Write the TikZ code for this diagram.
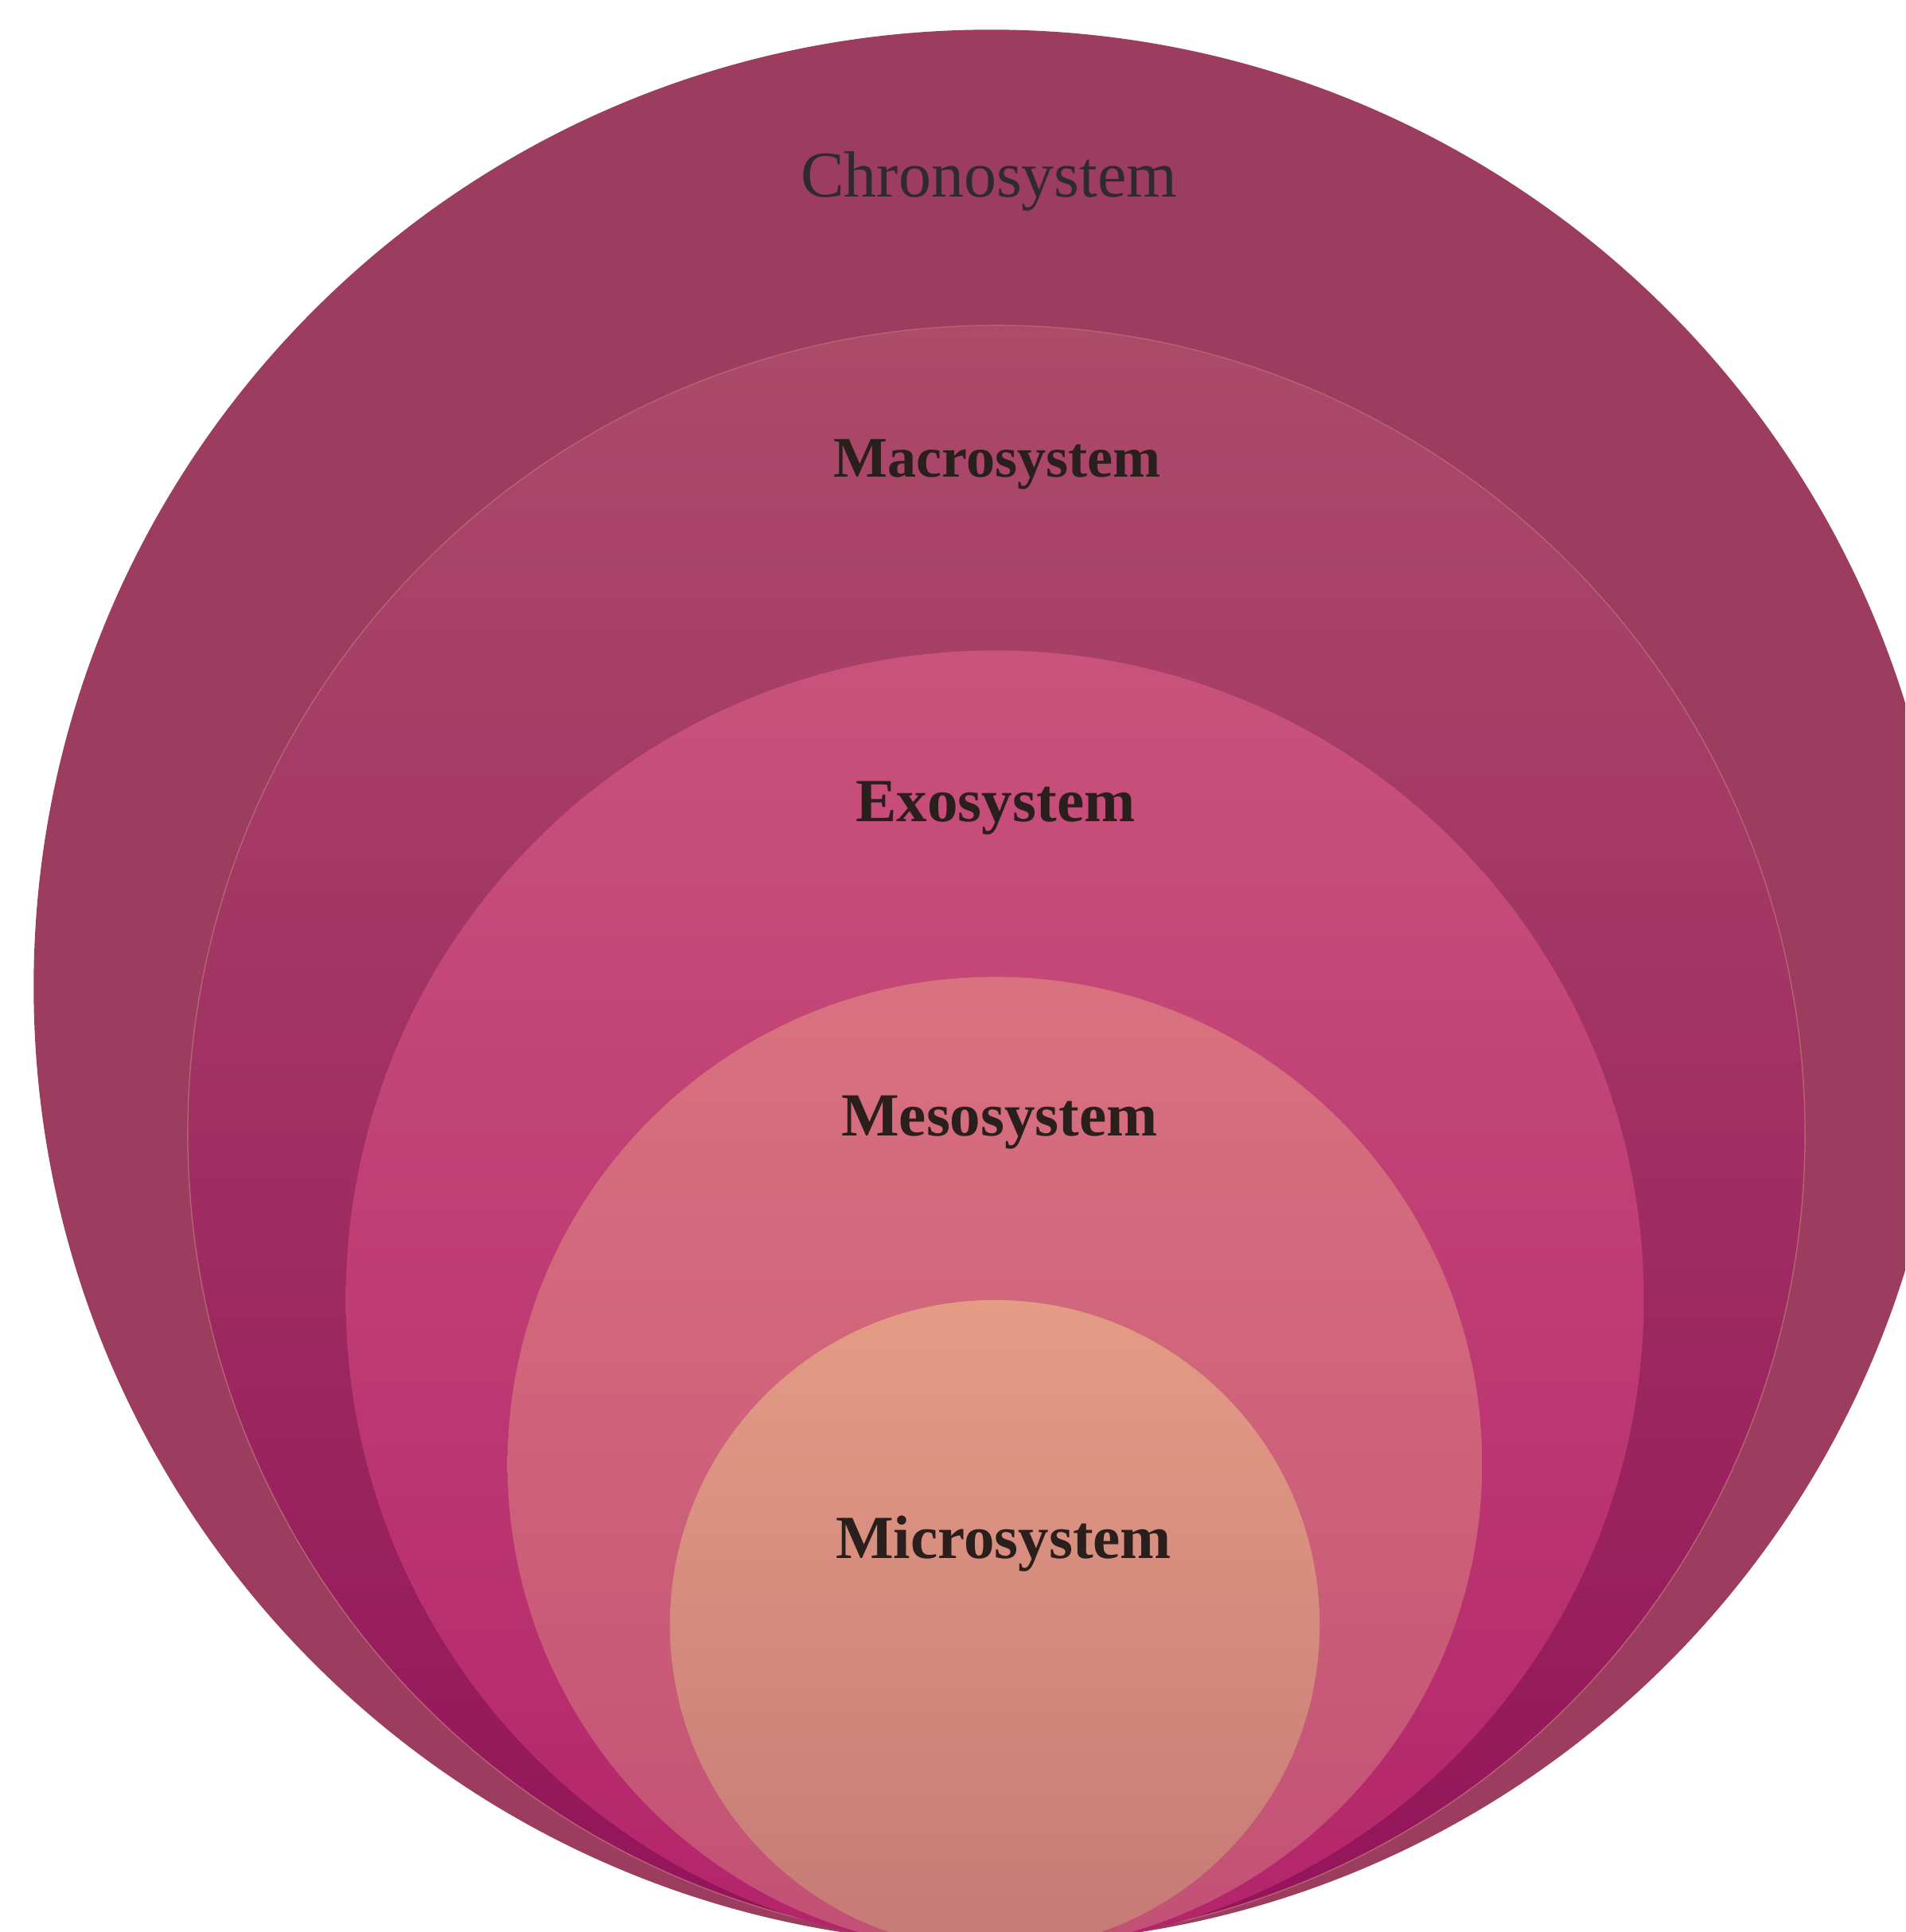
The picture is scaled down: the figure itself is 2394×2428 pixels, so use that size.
\documentclass[tikz,border=0pt]{standalone}
\usepackage{fontspec}
\setmainfont{Liberation Serif}
\definecolor{chronoC}{HTML}{9C3C5F}
\definecolor{macroT}{HTML}{AC4B6A}
\definecolor{macroB}{HTML}{93135A}
\definecolor{macroE}{HTML}{B86276}
\definecolor{exoT}{HTML}{C9537B}
\definecolor{exoB}{HTML}{B3246B}
\definecolor{mesoT}{HTML}{D9727F}
\definecolor{mesoB}{HTML}{C25075}
\definecolor{microT}{HTML}{E49C85}
\definecolor{microB}{HTML}{C57A76}
\definecolor{txtA}{HTML}{2F2A2E}
\definecolor{txtB}{HTML}{2A1F1C}
\tikzset{
  outerlabel/.style={anchor=base, inner sep=0pt, text=txtA, font=\fontsize{23.3pt}{28pt}\selectfont},
  innerlabel/.style={anchor=base, inner sep=0pt, text=txtB, font=\fontsize{21.9pt}{26pt}\selectfont\bfseries},
  smalllabel/.style={anchor=base, inner sep=0pt, text=txtB, font=\fontsize{20.5pt}{25pt}\selectfont\bfseries}
}
\begin{document}
\begin{tikzpicture}[x=0.01cm,y=-0.01cm]
\useasboundingbox (0,0) rectangle (2394,2428);
\fill[white] (0,0) rectangle (2394,2428);
\clip (0,0) rectangle (2394,2428);
% Chronosystem
\fill[chronoC] (1245,1240) circle (12.02cm);
% Macrosystem
\shade[top color=macroT, bottom color=macroB] (1252,1425) circle (10.155cm);
\draw[macroE, line width=0.4pt] (1252,1425) circle (10.155cm);
% Exosystem
\shade[top color=exoT, bottom color=exoB] (1250,1633) circle (8.15cm);
% Mesosystem
\shade[top color=mesoT, bottom color=mesoB] (1250,1840) circle (6.12cm);
% Microsystem
\shade[top color=microT, bottom color=microB] (1250,2042) circle (4.08cm);
% labels
\node[outerlabel] (chrono) at (1243,248) {Chronosystem};
\node[smalllabel] (macro) at (1253,600) {Macrosystem};
\node[innerlabel] (exo) at (1251,1032) {Exosystem};
\node[innerlabel] (meso) at (1256,1427) {Mesosystem};
\node[innerlabel] (micro) at (1261,1958) {Microsystem};
\end{tikzpicture}
\end{document}
